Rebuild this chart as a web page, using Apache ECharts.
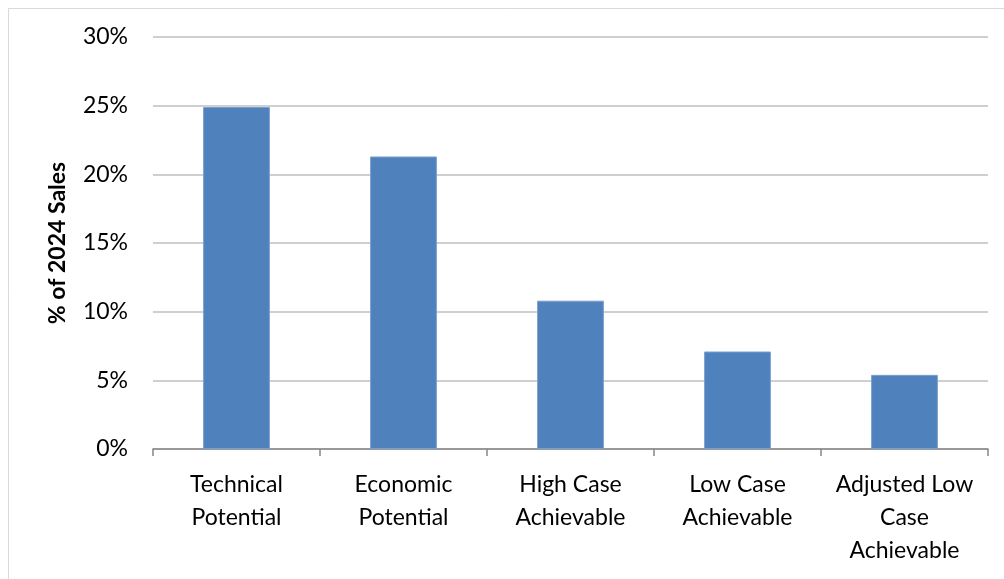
<!DOCTYPE html>
<html>
<head>
<meta charset="utf-8">
<script src="https://cdn.jsdelivr.net/npm/echarts@6/dist/echarts.min.js"></script>
<style>
  html, body { margin: 0; padding: 0; background: #fff; }
  #chart { width: 1004px; height: 579px; }
</style>
</head>
<body>
<div id="chart"></div>
<script>
// categories and values (percent of 2024 sales)
var categories = ["Technical\nPotential", "Economic\nPotential", "High Case\nAchievable", "Low Case\nAchievable", "Adjusted Low\nCase\nAchievable"];
var salesPct = [24.9, 21.3, 10.8, 7.1, 5.4];
var yTicks = [0, 5, 10, 15, 20, 25, 30];

var font = "Lato, 'Open Sans', sans-serif";

var chart = echarts.init(document.getElementById("chart"));
chart.setOption({
    animation: false,
    backgroundColor: "#fff",
    graphic: [{
        type: "rect",
        shape: { x: 8.5, y: 8.5, width: 1020, height: 600 },
        style: { fill: "none", stroke: "#d9d9d9", lineWidth: 1 },
        silent: true
    }],
    grid: { left: 153, right: 16, top: 37, bottom: 130 },
    xAxis: {
        type: "category",
        data: categories,
        axisLine: { lineStyle: { color: "#868686", width: 1.5 } },
        axisTick: { show: true, length: 7, lineStyle: { color: "#868686", width: 1.5 } },
        axisLabel: {
            color: "#000",
            fontFamily: font,
            fontSize: 23,
            lineHeight: 33,
            margin: 19,
            interval: 0
        }
    },
    yAxis: {
        type: "value",
        min: yTicks[0],
        max: yTicks[yTicks.length - 1],
        interval: 5,
        name: "% of 2024 Sales",
        nameLocation: "middle",
        nameGap: 84,
        nameTextStyle: { color: "#000", fontFamily: font, fontSize: 23, fontWeight: "bold" },
        axisLine: { show: false },
        axisTick: { show: false },
        axisLabel: {
            color: "#000",
            fontFamily: font,
            fontSize: 23,
            margin: 25,
            formatter: function (v) { return v + "%"; }
        },
        splitLine: { lineStyle: { color: "#bfbfbf", width: 1.5 } }
    },
    series: [{
        type: "bar",
        data: salesPct,
        barCategoryGap: "60%",
        itemStyle: { color: "#4f81bd", borderColor: "#7aa0cf", borderWidth: 1 }
    }]
});
</script>
</body>
</html>
